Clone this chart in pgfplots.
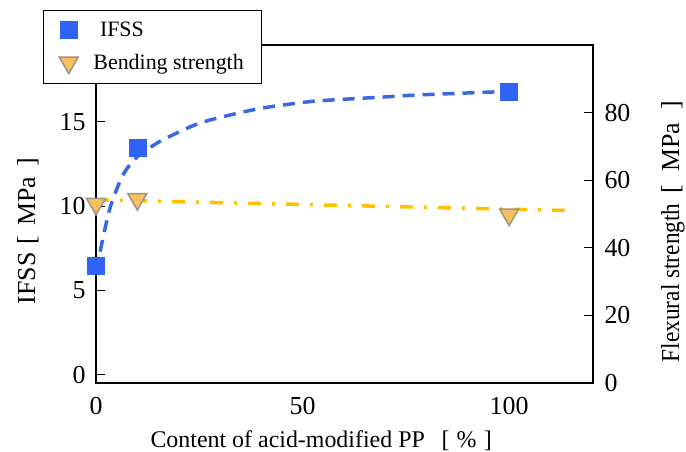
\documentclass[border=0pt]{standalone}
\usepackage{fontspec}
\setmainfont{Liberation Serif}
\usepackage{pgfplots}
\pgfplotsset{compat=1.18}
\definecolor{ifssblue}{HTML}{2F63F5}
\definecolor{ifssline}{HTML}{3A68E0}
\definecolor{goldline}{HTML}{FFC000}
\definecolor{trifill}{HTML}{F8BF5E}
\definecolor{triedge}{HTML}{9A9585}
\begin{document}
\begin{tikzpicture}
\useasboundingbox (-96bp,-69bp) rectangle (590bp,383bp);
\begin{axis}[
  at={(0,0)}, anchor=south west,
  scale only axis, width=497bp, height=338bp,
  xmin=0, xmax=120.3, ymin=-0.5, ymax=19.57,
  xtick={0,50,100}, ytick={0,5,10,15},
  xtick pos=bottom, ytick pos=left,
  tick align=inside,
  xtick style={draw=none},
  ytick style={line width=1bp, black},
  major tick length=9bp,
  axis line style={line width=1.6bp},
  /pgf/number format/assume math mode=true,
  ticklabel style={font=\fontsize{26}{26}\selectfont},
  xticklabel style={yshift=-11bp},
  yticklabel style={xshift=-7bp},
  xlabel={Content of acid-modified PP\hspace{0.7em}[\hspace{0.3em}\%\hspace{0.3em}]},
  ylabel={IFSS\hspace{0.3em}[\hspace{0.4em}MPa\hspace{0.4em}]},
  xlabel style={font=\fontsize{24}{28}\selectfont, at={(axis description cs:0.453,-0.172)}, anchor=center},
  ylabel style={font=\fontsize{26}{30}\selectfont, at={(axis description cs:-0.137,0.45)}, anchor=center},
  clip=false,
]
\addplot[ifssline, line width=3.5bp, dash pattern=on 12bp off 8bp, smooth, forget plot] coordinates {
  (1.0,7.3) (3.39,9.89) (6.54,11.85) (9.93,12.92) (14.8,13.75) (19.6,14.35)
  (25.2,14.94) (32.4,15.41) (40.4,15.83) (51.1,16.19) (57.4,16.31) (69.5,16.48)
  (77.7,16.60) (89.8,16.72) (96.1,16.78) (100,16.8)
};
\addplot[only marks, mark=square*, mark size=8.5bp, color=ifssblue, forget plot] coordinates {
  (0,6.45) (10,13.45) (100,16.77)
};
\end{axis}
\begin{axis}[
  at={(0,0)}, anchor=south west,
  scale only axis, width=497bp, height=338bp,
  xmin=0, xmax=120.3, ymin=0, ymax=100,
  axis x line=none, axis y line*=right,
  ytick={0,20,40,60,80},
  tick align=inside,
  ytick style={line width=1bp, black},
  major tick length=9bp,
  axis line style={line width=1.6bp},
  /pgf/number format/assume math mode=true,
  ticklabel style={font=\fontsize{26}{26}\selectfont},
  yticklabel style={xshift=8bp},
  ylabel={\scalebox{0.9}[1]{Flexural strength}\hspace{0.4em}[\hspace{0.5em}MPa\hspace{0.5em}]},
  ylabel style={font=\fontsize{26}{30}\selectfont, at={(axis description cs:1.161,0.448)}, anchor=center},
  clip=false,
  legend style={at={(axis description cs:-0.107,1.104)}, anchor=north west,
    draw=black, line width=0.8bp, fill=white,
    font=\fontsize{22}{24}\selectfont, row sep=12bp,
    inner xsep=16bp, inner ysep=10bp,
    nodes={inner sep=2bp}},
  legend cell align=left,
]
\addlegendimage{only marks, mark=square*, mark size=8.5bp, color=ifssblue}
\addlegendentry{\hspace{0.9em}IFSS}
\addplot[goldline, line width=3.5bp, dash pattern=on 13bp off 11bp on 3bp off 11bp, forget plot] coordinates {
  (0,54.2) (115,51.0)
};
\addplot[only marks, mark=triangle*, mark size=11bp,
  mark options={rotate=180, fill=trifill, draw=triedge, line width=1.5bp}] coordinates {
  (0,53.0) (10,54.4) (100,49.8)
};
\addlegendentry{\hspace{0.6em}Bending strength}
\end{axis}
\end{tikzpicture}
\end{document}
